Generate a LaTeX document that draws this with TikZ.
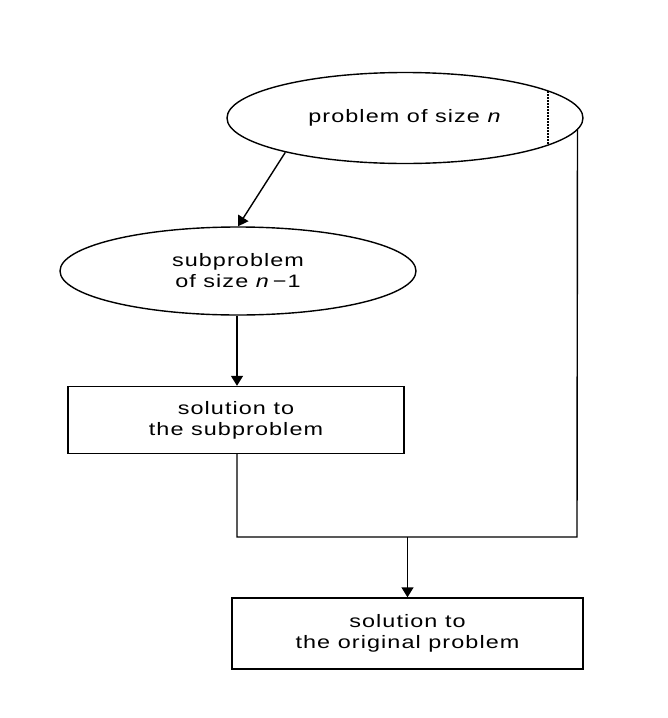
\documentclass[tikz,border=0pt]{standalone}
\usepackage{fontspec}
\setmainfont{Liberation Sans}[FakeStretch=1.3,LetterSpace=6]
\usetikzlibrary{shapes.geometric,arrows.meta}
\begin{document}
\begin{tikzpicture}[x=1pt,y=-1pt,
  every node/.style={font=\fontsize{18}{21}\selectfont, align=center, inner sep=0pt},
  oval/.style={draw, ellipse, line width=1.4pt},
  boxnode/.style={draw, rectangle, line width=1.4pt},
  conn/.style={line width=1.4pt},
  arr/.style={conn, -{Triangle[width=12pt,length=10pt]}}]
\useasboundingbox (0,0) rectangle (668,718);
\node[oval, minimum width=356pt, minimum height=91pt] (e1) at (405,118) {problem of size \textit{n}};
\node[oval, minimum width=356pt, minimum height=88pt] (e2) at (238,271) {subproblem\\of size \textit{n}\,−1};
\node[boxnode, minimum width=336pt, minimum height=67pt] (b1) at (236,420) {solution to\\the subproblem};
\node[boxnode, minimum width=351pt, minimum height=71pt] (b2) at (407.5,633.5) {solution to\\the original problem};
\coordinate (j1) at (237,537);
\coordinate (j2) at (577,537);
\coordinate (jm) at (407.5,537);
\coordinate (d1) at (548,91);
\coordinate (d2) at (548,145);
\draw[arr] (e1.-164) -- (e2.north);
\draw[arr] (e2.south -| j1) -- (b1.north -| j1);
\draw[conn] (b1.south -| j1) -- (j1) -- (j2) -- (e1.-4);
\draw[arr] (jm) -- (b2.north);
\draw[line width=1.1pt, dash pattern=on 1.5pt off 1.5pt] (d1) -- (d2);
\end{tikzpicture}
\end{document}
